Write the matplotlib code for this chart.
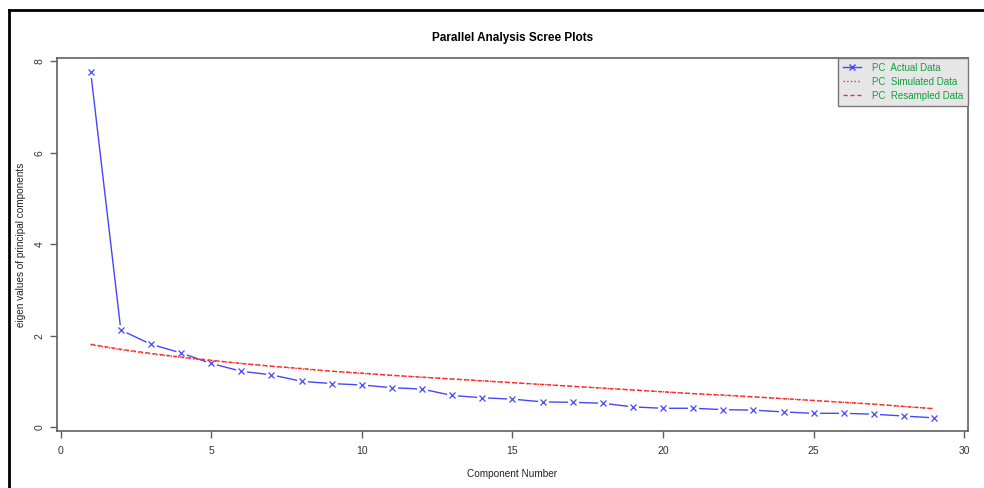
import matplotlib
matplotlib.use("Agg")
import matplotlib.pyplot as plt
from matplotlib.lines import Line2D
import numpy as np

plt.rcParams['font.family'] = ['Liberation Sans', 'DejaVu Sans']

components = np.arange(1, 30)
actual = [7.76, 2.12, 1.81, 1.62, 1.39, 1.22, 1.14, 1.00, 0.95, 0.92,
          0.86, 0.83, 0.69, 0.64, 0.61, 0.55, 0.54, 0.52, 0.44, 0.41,
          0.41, 0.38, 0.37, 0.33, 0.30, 0.30, 0.28, 0.24, 0.20]
simulated = [1.80, 1.69, 1.60, 1.52, 1.45, 1.39, 1.33, 1.27, 1.22, 1.17,
             1.13, 1.09, 1.05, 1.01, 0.97, 0.93, 0.89, 0.85, 0.81, 0.77,
             0.73, 0.69, 0.66, 0.62, 0.58, 0.54, 0.50, 0.45, 0.40]
resampled = [1.81, 1.70, 1.61, 1.53, 1.46, 1.39, 1.33, 1.28, 1.22, 1.18,
             1.13, 1.09, 1.05, 1.01, 0.97, 0.93, 0.89, 0.85, 0.81, 0.77,
             0.73, 0.70, 0.66, 0.62, 0.58, 0.54, 0.50, 0.45, 0.40]
legend_labels = ["PC  Actual Data", "PC  Simulated Data", "PC  Resampled Data"]

fig = plt.figure(figsize=(9.84, 4.88), dpi=100)
ax = fig.add_axes([0.0579, 0.1168, 0.9258, 0.7643])

blue = '#4646ff'
red = '#ff2a2a'
# R type="b": line broken around the points
ax.plot(components, actual, color=blue, lw=1, zorder=2)
ax.plot(components, actual, ls='none', marker='o', ms=8, mfc='white', mec='none', zorder=2.1)
ax.plot(components, actual, ls='none', marker='x', ms=5, mew=0.9, color=blue, zorder=2.2)
ax.plot(components, simulated, color=red, lw=1, ls=':', zorder=2.3)
ax.plot(components, resampled, color=red, lw=1, ls=(0, (3, 2)), zorder=2.3)

ax.set_xlim(-0.12, 30.12)
ax.set_ylim(-0.087, 8.07)
ax.set_xticks([0, 5, 10, 15, 20, 25, 30])
ax.set_yticks([0, 2, 4, 6, 8])
for s in ax.spines.values():
    s.set_color('#606060')
    s.set_linewidth(1.2)
ax.tick_params(direction='out', length=5, width=1, color='#606060',
               labelsize=7.5, labelcolor='#333333')
ax.tick_params(axis='x', pad=6)
ax.tick_params(axis='y', pad=4)
for lab in ax.get_yticklabels():
    lab.set_rotation(90)
    lab.set_va('center')

ax.set_title("Parallel Analysis Scree Plots", fontsize=8.5, fontweight='bold', pad=12.5)
ax.set_xlabel("Component Number", fontsize=7.2, labelpad=9, color='#222222')
ax.set_ylabel("eigen values of principal components", fontsize=7.2, labelpad=6, color='#222222')

handles = [
    Line2D([], [], color=blue, lw=1, marker='x', ms=5),
    Line2D([], [], color=red, lw=1, ls=':'),
    Line2D([], [], color=red, lw=1, ls=(0, (3, 2))),
]
leg = ax.legend(handles, legend_labels, loc='upper right', borderaxespad=0,
                fancybox=False, framealpha=1, fontsize=7, handlelength=1.9,
                labelspacing=0.4, borderpad=0.5, handletextpad=1.1)
leg.get_frame().set_facecolor('#e6e6e6')
leg.get_frame().set_edgecolor('#777777')
for t in leg.get_texts():
    t.set_color('#10a040')

# window border seen at left and top of the screenshot
fig.add_artist(Line2D([0.009, 0.009], [0, 0.979], color='black', lw=2, transform=fig.transFigure))
fig.add_artist(Line2D([0.009, 1], [0.979, 0.979], color='black', lw=2, transform=fig.transFigure))

fig.savefig("out.png", dpi=100)
